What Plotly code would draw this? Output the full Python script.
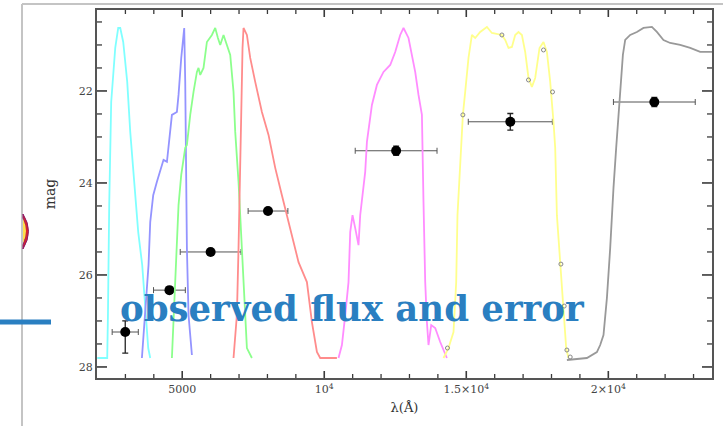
import plotly.graph_objects as go

# ---------------- data ----------------
# observed photometry
obs_wl = [2994, 4550, 6000, 8020, 12530, 16550, 21620]
obs_wl_err = [460, 560, 1070, 700, 1440, 1480, 1440]
obs_mag = [27.24, 26.33, 25.50, 24.61, 23.30, 22.67, 22.24]
obs_mag_err_plus = [0.46, 0.06, 0.06, 0.06, 0.10, 0.18, 0.10]
obs_mag_err_minus = [0.24, 0.06, 0.06, 0.06, 0.10, 0.18, 0.10]

# filter transmission curves (normalised)
cyan_wl = [2008, 2360, 2385, 2430, 2500, 2642, 2747, 2818, 2923, 3064, 3170, 3310, 3451, 3592, 3698, 3803, 3874]
cyan_T = [0.006, 0.006, 0.135, 0.465, 0.775, 0.937, 0.997, 0.997, 0.955, 0.835, 0.685, 0.535, 0.384, 0.285, 0.156, 0.036, 0.006]

blue_wl = [3581, 3698, 3814, 3874, 3979, 4109, 4226, 4342, 4462, 4542, 4637, 4813, 4870, 4965, 5025, 5070, 5106, 5130, 5165, 5222, 5341]
blue_T = [0.006, 0.135, 0.285, 0.414, 0.495, 0.535, 0.565, 0.601, 0.595, 0.655, 0.736, 0.745, 0.796, 0.907, 0.955, 0.997, 0.835, 0.637, 0.336, 0.135, 0.015]

green_wl = [4637, 4754, 4870, 4965, 5106, 5165, 5282, 5398, 5517, 5574, 5634, 5750, 5869, 6045, 6162, 6257, 6338, 6454, 6574, 6690, 6806, 6866, 6982, 7042, 7158, 7277, 7453]
green_T = [0.006, 0.234, 0.465, 0.556, 0.637, 0.646, 0.736, 0.805, 0.865, 0.877, 0.856, 0.877, 0.955, 0.976, 0.997, 0.967, 0.946, 0.976, 0.946, 0.916, 0.805, 0.685, 0.535, 0.435, 0.234, 0.036, 0.006]

red_wl = [6806, 6925, 6982, 7042, 7077, 7123, 7158, 7277, 7394, 7570, 7805, 8038, 8274, 8509, 8802, 9094, 9390, 9566, 9742, 9858, 10446]
red_T = [0.006, 0.135, 0.336, 0.535, 0.736, 0.937, 0.997, 0.976, 0.907, 0.835, 0.745, 0.676, 0.577, 0.495, 0.396, 0.294, 0.234, 0.114, 0.024, 0.006, 0.006]

magenta_wl = [10502, 10622, 10738, 10854, 10914, 10995, 11090, 11206, 11266, 11326, 11442, 11502, 11618, 11678, 11854, 12086, 12322, 12498, 12674, 12790, 12966, 13086, 13202, 13318, 13438, 13494, 13554, 13614, 13670, 13765, 13906, 14082, 14317]
magenta_T = [0.006, 0.045, 0.135, 0.234, 0.384, 0.435, 0.396, 0.345, 0.435, 0.486, 0.565, 0.655, 0.727, 0.766, 0.826, 0.865, 0.886, 0.925, 0.976, 0.997, 0.967, 0.916, 0.865, 0.796, 0.736, 0.474, 0.234, 0.114, 0.045, 0.105, 0.096, 0.054, 0.006]

yellow_wl = [14198, 14374, 14550, 14645, 14690, 14810, 14880, 14962, 15078, 15198, 15314, 15490, 15726, 15902, 16254, 16370, 16486, 16606, 16722, 16838, 16958, 17074, 17190, 17310, 17426, 17578, 17718, 17838, 17954, 18070, 18130, 18190, 18306, 18422, 18517, 18598]
yellow_T = [0.006, 0.036, 0.084, 0.234, 0.435, 0.616, 0.736, 0.805, 0.907, 0.976, 0.967, 0.985, 1.0, 0.982, 0.976, 0.961, 0.937, 0.940, 0.976, 0.985, 0.976, 0.925, 0.847, 0.820, 0.847, 0.937, 0.955, 0.925, 0.835, 0.715, 0.637, 0.435, 0.285, 0.156, 0.036, 0.006]

yellow_pts_wl = [14338, 14880, 16254, 17190, 17718, 18035, 18331, 18447, 18542, 18658]
yellow_pts_T = [0.036, 0.736, 0.976, 0.841, 0.931, 0.805, 0.288, 0.162, 0.030, 0.009]

gray_wl = [18542, 19246, 19598, 19714, 19830, 19950, 20066, 20126, 20182, 20277, 20358, 20418, 20513, 20594, 20770, 21006, 21238, 21534, 21710, 21942, 22178, 22530, 22882, 23234, 23656]
gray_T = [0.0, 0.006, 0.024, 0.045, 0.075, 0.186, 0.336, 0.435, 0.517, 0.637, 0.736, 0.826, 0.916, 0.961, 0.976, 0.985, 0.997, 1.0, 0.985, 0.961, 0.952, 0.946, 0.937, 0.925, 0.925]

# axes: ranges and tick values
x_range = [2000, 23650]
mag_range = [28.24, 20.24]
trans_range = [-0.054, 1.051]
x_major = [5000, 10000, 15000, 20000]
x_major_text = ["5000", "10<sup>4</sup>", "1.5×10<sup>4</sup>", "2×10<sup>4</sup>"]
x_minor = [v for v in range(3000, 23001, 1000) if v not in x_major]
y_major = [22, 24, 26, 28]
y_major_text = ["22", "24", "26", "28"]
y_minor = [20.5 + 0.5 * i for i in range(16) if (20.5 + 0.5 * i) not in y_major]

# ---------------- layout geometry ----------------
W, H = 723, 426
ML, MR, MT, MB = 97, 11, 10, 48
PW, PH = W - ML - MR, H - MT - MB


def px(x):
    return (x - ML) / PW


def py(y):
    return (H - MB - y) / PH


fig = go.Figure()

# observed points on the main (magnitude) subplot
fig.add_trace(go.Scatter(
    x=obs_wl, y=obs_mag, mode="markers", xaxis="x", yaxis="y", showlegend=False,
    marker=dict(color="black", size=10, symbol="circle"),
    error_x=dict(type="data", array=obs_wl_err, color="#555555", thickness=1, width=3),
    error_y=dict(type="data", array=obs_mag_err_plus, arrayminus=obs_mag_err_minus,
                 color="#222222", thickness=1.3, width=3),
))

# filter curves on a second, transparent subplot sharing the same area
filters = [
    (cyan_wl, cyan_T, "#80ffff"),
    (blue_wl, blue_T, "#9494ff"),
    (green_wl, green_T, "#8cff8c"),
    (red_wl, red_T, "#ff8c8c"),
    (magenta_wl, magenta_T, "#ff8cff"),
    (yellow_wl, yellow_T, "#ffff8c"),
    (gray_wl, gray_T, "#999999"),
]
for wl, tr, col in filters:
    fig.add_trace(go.Scatter(x=wl, y=tr, mode="lines", line=dict(color=col, width=1.8),
                             xaxis="x2", yaxis="y2", showlegend=False, hoverinfo="skip"))

fig.add_trace(go.Scatter(x=yellow_pts_wl, y=yellow_pts_T, mode="markers",
                         marker=dict(symbol="circle-open", size=4, color="#888888", line=dict(width=1)),
                         xaxis="x2", yaxis="y2", showlegend=False, hoverinfo="skip"))

tick_col = "#3a3a3a"
tickfont = dict(family="DejaVu Serif", size=11, color="#444444")
hidden = dict(showticklabels=False, ticks="", showline=False, showgrid=False, zeroline=False,
              fixedrange=True)

fig.update_layout(
    width=W, height=H,
    margin=dict(l=ML, r=MR, t=MT, b=MB, autoexpand=False),
    paper_bgcolor="white", plot_bgcolor="rgba(0,0,0,0)",
    xaxis=dict(range=x_range, tickmode="array", tickvals=x_major, ticktext=x_major_text,
               ticks="", showline=True, linecolor="#555555", linewidth=2, mirror=True,
               showgrid=False, zeroline=False, tickfont=tickfont,
               title=dict(text="λ(Å)", font=dict(family="DejaVu Serif", size=13, color="#333333"),
                          standoff=8)),
    yaxis=dict(range=mag_range, tickmode="array", tickvals=y_major, ticktext=y_major_text,
               ticks="", showline=True, linecolor="#555555", linewidth=2, mirror=True,
               showgrid=False, zeroline=False, tickfont=tickfont,
               title=dict(text="mag", font=dict(family="DejaVu Serif", size=14, color="#333333"),
                          standoff=20)),
    xaxis2=dict(range=x_range, anchor="y2", **hidden),
    yaxis2=dict(range=trans_range, anchor="x2", **hidden),
)

shapes = []
# inward tick marks on all four sides, placed at the tick values through the axes
for vals, ln, wd in [(x_major, 7, 1.6), (x_minor, 4, 1.3)]:
    for v in vals:
        for base, sgn in [(0, 1), (1, -1)]:
            shapes.append(dict(type="line", xref="x", yref="paper", x0=v, x1=v,
                               y0=base, y1=base + sgn * ln / PH,
                               line=dict(color=tick_col, width=wd)))
for vals, ln, wd in [(y_major, 10, 1.6), (y_minor, 5, 1.3)]:
    for v in vals:
        for base, sgn in [(0, 1), (1, -1)]:
            shapes.append(dict(type="line", xref="paper", yref="y", y0=v, y1=v,
                               x0=base, x1=base + sgn * ln / PW,
                               line=dict(color=tick_col, width=wd)))

blue = "#2a7fc1"
shapes += [
    # slide frame
    dict(type="line", xref="paper", yref="paper", x0=px(22), x1=px(22), y0=py(4), y1=py(430),
         line=dict(color="#c4c4c4", width=2)),
    dict(type="line", xref="paper", yref="paper", x0=px(22), x1=px(725), y0=py(4), y1=py(4),
         line=dict(color="#c4c4c4", width=2)),
    # callout line
    dict(type="line", xref="paper", yref="paper", x0=px(-2), x1=px(51), y0=py(322), y1=py(322),
         line=dict(color=blue, width=5)),
    # partial crescent image at left edge
    dict(type="path", xref="paper", yref="paper",
         path="M {},{} Q {},{} {},{} L {},{} Q {},{} {},{} Z".format(
             px(23), py(214), px(34), py(231), px(23), py(249),
             px(23), py(245), px(28), py(231), px(23), py(218)),
         fillcolor="#d8242a", line=dict(color="#8a1a6a", width=1)),
    dict(type="path", xref="paper", yref="paper",
         path="M {},{} Q {},{} {},{} Z".format(
             px(23), py(219), px(29), py(231), px(23), py(243)),
         fillcolor="#ffe04a", line=dict(width=0)),
]
fig.update_layout(shapes=shapes)

fig.add_annotation(xref="paper", yref="paper", x=px(118), y=py(308), xanchor="left", yanchor="middle",
                   text="<b>observed flux and error</b>", showarrow=False,
                   font=dict(family="DejaVu Serif", size=35.5, color=blue))

fig.write_html("out.html", config={"displayModeBar": False})
